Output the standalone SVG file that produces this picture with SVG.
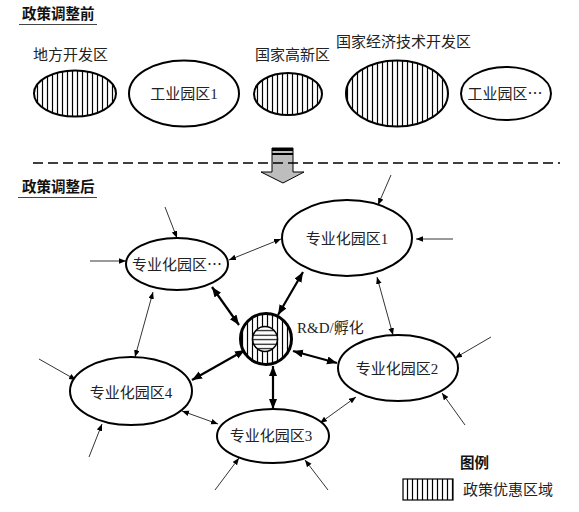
<svg xmlns="http://www.w3.org/2000/svg" width="579" height="512" viewBox="0 0 579 512">
<style>
text{font-family:"Liberation Serif","Noto Sans CJK SC",serif;font-size:15px;fill:#222;}
.t{font-family:"Noto Sans CJK SC","Liberation Sans",sans-serif;font-weight:bold;font-size:14.5px;fill:#111;}
.c{text-anchor:middle;}
.cjk{font-family:"Noto Sans CJK SC",sans-serif;}
.node{fill:#fff;stroke:#000;stroke-width:2;}
.hat{fill:url(#vh);stroke:#000;stroke-width:2;}
.thick{stroke:#000;stroke-width:2.2;fill:none;marker-start:url(#ah);marker-end:url(#ah);}
.thin{stroke:#000;stroke-width:0.8;fill:none;marker-end:url(#as);}
.thin2{stroke:#000;stroke-width:0.8;fill:none;marker-start:url(#as);marker-end:url(#as);}
.ul{stroke:#444;stroke-width:1.2;}
</style>
<defs>
<pattern id="vh" patternUnits="userSpaceOnUse" width="5" height="5">
<rect width="5" height="5" fill="#fff"/>
<line x1="2.5" y1="0" x2="2.5" y2="5" stroke="#000" stroke-width="1.2"/>
</pattern>
<pattern id="hh" patternUnits="userSpaceOnUse" width="5" height="4.5">
<rect width="5" height="4.5" fill="#fff"/>
<line x1="0" y1="2.2" x2="5" y2="2.2" stroke="#000" stroke-width="1.1"/>
</pattern>
<marker id="ah" markerUnits="userSpaceOnUse" markerWidth="12" markerHeight="10" refX="10" refY="4" orient="auto-start-reverse">
<path d="M0,0 L10,4 L0,8 Z" fill="#000"/>
</marker>
<marker id="as" markerUnits="userSpaceOnUse" markerWidth="9" markerHeight="7" refX="7" refY="2.8" orient="auto-start-reverse">
<path d="M0,0 L7,2.8 L0,5.6 Z" fill="#000"/>
</marker>
</defs>

<g id="title-before">
<text class="t" x="22" y="19">政策调整前</text>
<line class="ul" x1="19" y1="24.5" x2="97" y2="24.5"/>
</g>

<g id="before-local">
<text x="33" y="60">地方开发区</text>
<ellipse class="hat" cx="75" cy="93.5" rx="41" ry="23"/>
</g>
<g id="before-ind1">
<ellipse class="node" cx="184" cy="93.5" rx="55" ry="33"/>
<text class="c" x="184" y="99">工业园区1</text>
</g>
<g id="before-hitech">
<text x="255" y="60">国家高新区</text>
<ellipse class="hat" cx="288" cy="94" rx="34" ry="21"/>
</g>
<g id="before-etdz">
<text x="336" y="47">国家经济技术开发区</text>
<ellipse class="hat" cx="397" cy="93.5" rx="51" ry="33"/>
</g>
<g id="before-indn">
<ellipse class="node" cx="506" cy="93.5" rx="45" ry="26.5"/>
<text class="c cjk" x="505" y="99">工业园区…</text>
</g>

<g id="transition">
<polygon points="272,148 293,148 293,172 304,172 283,183 261,172 272,172" fill="#bdbdbd" stroke="#000" stroke-width="1"/>
<rect x="272" y="148" width="21" height="3" fill="#000"/>
<rect x="272" y="153" width="21" height="2" fill="#000"/>
<line x1="33" y1="163" x2="560" y2="163" stroke="#000" stroke-width="1.5" stroke-dasharray="10,5"/>
</g>

<g id="title-after">
<text class="t" x="22" y="192">政策调整后</text>
<line class="ul" x1="18" y1="197.5" x2="97" y2="197.5"/>
</g>

<g id="connectors">
<line class="thick" x1="212" y1="287" x2="239" y2="325"/>
<line class="thick" x1="303" y1="272" x2="278" y2="315"/>
<line class="thick" x1="245" y1="350" x2="192" y2="380"/>
<line class="thick" x1="273" y1="366" x2="273" y2="409"/>
<line class="thick" x1="293" y1="351" x2="337" y2="363"/>
<line class="thin2" x1="229" y1="260" x2="281" y2="239"/>
<line class="thin2" x1="153" y1="292" x2="135" y2="357"/>
<line class="thin2" x1="377" y1="277" x2="393" y2="335"/>
<line class="thin2" x1="182" y1="411" x2="218" y2="424"/>
<line class="thin2" x1="320" y1="423" x2="356" y2="397"/>
<line class="thin" x1="165" y1="207" x2="177" y2="238"/>
<line class="thin" x1="90" y1="261" x2="126" y2="261"/>
<line class="thin" x1="391" y1="175" x2="378" y2="205"/>
<line class="thin" x1="453" y1="239" x2="416" y2="239"/>
<line class="thin" x1="491" y1="337" x2="455" y2="358"/>
<line class="thin" x1="465" y1="425" x2="442" y2="393"/>
<line class="thin" x1="39" y1="359" x2="76" y2="380"/>
<line class="thin" x1="89" y1="457" x2="102" y2="424"/>
<line class="thin" x1="215" y1="490" x2="239" y2="458"/>
<line class="thin" x1="328" y1="490" x2="305" y2="460"/>
</g>

<g id="node-dots">
<ellipse class="node" cx="177" cy="264" rx="51" ry="26"/>
<text class="c cjk" x="177" y="269.5">专业化园区…</text>
</g>
<g id="node-1">
<ellipse class="node" cx="347" cy="238" rx="65" ry="38"/>
<text class="c" x="347" y="243.5">专业化园区1</text>
</g>
<g id="node-2">
<ellipse class="node" cx="398" cy="368" rx="60" ry="33"/>
<text class="c" x="397" y="374">专业化园区2</text>
</g>
<g id="node-3">
<ellipse class="node" cx="273" cy="436" rx="56" ry="27"/>
<text class="c" x="271" y="441">专业化园区3</text>
</g>
<g id="node-4">
<ellipse class="node" cx="131" cy="391" rx="61" ry="34"/>
<text class="c" x="131" y="398">专业化园区4</text>
</g>
<g id="node-rd">
<circle cx="266" cy="339" r="25.5" fill="url(#vh)" stroke="#000" stroke-width="3"/>
<circle cx="265" cy="339" r="12.5" fill="url(#hh)" stroke="#000" stroke-width="1.5"/>
<text x="297" y="333">R&amp;D/孵化</text>
</g>

<g id="legend">
<text class="t" x="460" y="468">图例</text>
<rect x="403" y="479" width="50" height="21" fill="url(#vh)" stroke="#000" stroke-width="1.2"/>
<text x="463" y="495">政策优惠区域</text>
</g>
</svg>
